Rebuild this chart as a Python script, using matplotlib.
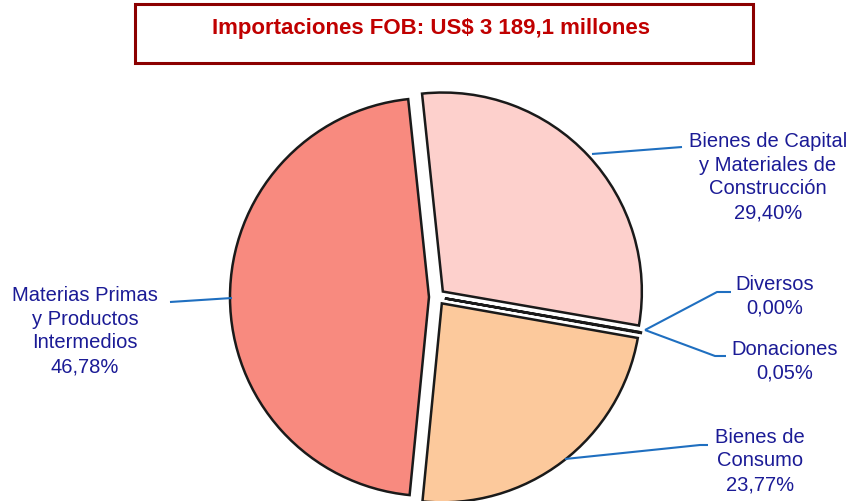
import matplotlib
matplotlib.use("Agg")
import matplotlib.pyplot as plt
from matplotlib.patches import Rectangle

W, H = 853, 501

title = "Importaciones FOB: US$ 3 189,1 millones"
categories = ["Bienes de Capital\ny Materiales de\nConstrucción", "Diversos", "Donaciones",
              "Bienes de\nConsumo", "Materias Primas\ny Productos\nIntermedios"]
values = [29.40, 0.00, 0.05, 23.77, 46.78]
pct_labels = ["29,40%", "0,00%", "0,05%", "23,77%", "46,78%"]
colors = ["#FDD0CC", "#FCC99C", "#FCC99C", "#FCC99C", "#F88A7F"]

fig = plt.figure(figsize=(W / 100, H / 100), dpi=100)
ax = fig.add_axes([0, 0, 1, 1])

def Y(y):
    return H - y

cx, cy, R = 437, 297, 199
wedges, _ = ax.pie(values, startangle=96, counterclock=False, center=(cx, Y(cy)), radius=R,
                   explode=[8] * len(values), colors=colors,
                   wedgeprops=dict(edgecolor="#1a1a1a", linewidth=1.8), frame=True)
ax.set_xlim(0, W)
ax.set_ylim(0, H)
ax.set_aspect("equal")
ax.axis("off")

# title box
ax.add_patch(Rectangle((135, Y(63)), 753 - 135, 59, fill=False, edgecolor="#8B0000", linewidth=2.2))
ax.text(431, Y(28), title, ha="center", va="center", color="#C00000", fontsize=16,
        fontweight="bold", family=["Liberation Sans Narrow", "Liberation Sans"])

line_c = "#1F6FC0"
text_c = "#1B1B96"
fs = 14.5
fam = ["Liberation Sans", "DejaVu Sans"]

# leader lines (pixel coords, y down)
leaders = [
    [(592, 154), (682, 147)],
    [(645, 330), (717, 292), (731, 292)],
    [(645, 330), (715, 356), (726, 356)],
    [(565, 459), (700, 445), (708, 445)],
    [(170, 302), (232, 298)],
]
for pts in leaders:
    ax.plot([p[0] for p in pts], [Y(p[1]) for p in pts], color=line_c, lw=1.5,
            solid_capstyle="butt")

label_pos = [(768, 177), (775, 296), (785, 361), (760, 461), (85, 331)]
for (x, y), cat, pct in zip(label_pos, categories, pct_labels):
    ax.text(x, Y(y), cat + "\n" + pct, ha="center", va="center", multialignment="center",
            color=text_c, fontsize=fs, family=fam, linespacing=1.33)

fig.savefig("out.png", dpi=100)
